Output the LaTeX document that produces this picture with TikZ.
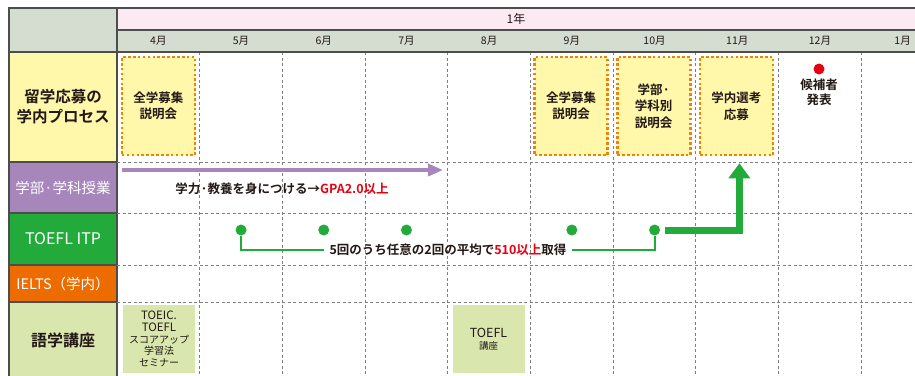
\documentclass[tikz,border=0pt]{standalone}
\usepackage{fontspec}
\setmainfont{Noto Sans CJK JP}[BoldFont={Noto Sans CJK JP Bold}]
\usetikzlibrary{arrows.meta}
\definecolor{hdrgray}{HTML}{D4DDD0}
\definecolor{yearpink}{HTML}{FCEAF2}
\definecolor{procyellow}{HTML}{FFF7AA}
\definecolor{classpurple}{HTML}{A686BB}
\definecolor{itpgreen}{HTML}{22AA3A}
\definecolor{ieltsorange}{HTML}{EC6C00}
\definecolor{langgreen}{HTML}{D9E7AE}
\definecolor{eventorange}{HTML}{F08300}
\definecolor{linegray}{HTML}{4D4D4D}
\definecolor{gridgray}{HTML}{7F7F7F}
\definecolor{notered}{HTML}{E60012}
\definecolor{ink}{HTML}{231815}

\begin{document}
\begin{tikzpicture}[x=1pt, y=-1pt, text=ink,
  frame/.style={draw=linegray, line width=1.2pt},
  gridline/.style={draw=gridgray, line width=0.9pt, dash pattern=on 3pt off 2.5pt},
  rowlabel/.style={frame, minimum width=108pt, inner sep=0pt, align=center},
  eventbox/.style={draw=eventorange, fill=procyellow, line width=2.6pt, dash pattern=on 2.6pt off 2.3pt,
    minimum width=73pt, minimum height=98pt, inner sep=0pt, align=center, font=\bfseries\fontsize{12.5}{16.5}\selectfont},
  langbox/.style={fill=langgreen, minimum width=72pt, minimum height=68pt, inner sep=0pt, align=center},
  itpdot/.style={circle, fill=itpgreen, minimum size=11pt, inner sep=0pt},
  ]
\useasboundingbox (0,0) rectangle (915,375);

\fill[yearpink] (117,8) rectangle (915,30);
\fill[hdrgray] (117,30) rectangle (915,52);
\node[rowlabel, fill=hdrgray, minimum height=44pt] (corner) at (63,30) {};
\node[rowlabel, fill=procyellow, minimum height=110pt, font=\bfseries\fontsize{15.5}{20}\selectfont] (lblProc) at (63,107) {留学応募の\\学内プロセス};
\node[rowlabel, fill=classpurple, minimum height=51pt, text=white, font=\fontsize{14.5}{17}\selectfont] (lblClass) at (63,187.5) {学部·学科授業};
\node[rowlabel, fill=itpgreen, minimum height=52pt, text=white, font=\fontsize{16}{18}\selectfont] (lblItp) at (63,239) {TOEFL ITP};
\node[rowlabel, fill=ieltsorange, minimum height=37pt, text=white, font=\fontsize{14.5}{17}\selectfont] (lblIelts) at (63,283.5) {IELTS（学内）};
\node[rowlabel, fill=langgreen, minimum height=76pt, font=\bfseries\fontsize{16}{18}\selectfont] (lblLang) at (63,340) {語学講座};

\foreach \y in {162,213,265,302}
{
    \draw[gridline] (117,\y)--(915,\y);
}
\foreach \i in {1,...,9}
{
    \draw[gridline] ({117+82.7*\i},52)--({117+82.7*\i},375);
}
\draw[frame] (9,8)--(915,8);
\draw[frame] (117,30)--(915,30);
\draw[frame] (9,52)--(915,52);

\node[font=\fontsize{12}{13}\selectfont] (year) at (516,19) {1年};
\foreach \m [count=\i from 0] in {4,5,6,7,8,9,10,11,12,1}
{
    \node[font=\fontsize{10.5}{12}\selectfont] (m\i) at ({158.35+82.7*\i},41) {\m 月};
}

\node[eventbox] (box0) at (158.35,106) {全学募集\\説明会};
\node[eventbox] (box5) at (571,106) {全学募集\\説明会};
\node[eventbox] (box6) at (653.7,106) {学部·\\学科別\\説明会};
\node[eventbox] (box7) at (736.4,106) {学内選考\\応募};
\node[circle, fill=notered, minimum size=11pt, inner sep=0pt] (candDot) at (819,69) {};
\node[align=center, font=\bfseries\fontsize{12.5}{15.5}\selectfont] (cand) at (819,92.5) {候補者\\発表};

\coordinate (gpaStart) at (122,170);
\coordinate (gpaEnd) at (443,170);
\draw[classpurple, line width=3.5pt, -{Triangle[length=15pt,width=12pt]}] (gpaStart)--(gpaEnd);
\node[font=\bfseries\fontsize{12.5}{15}\selectfont] (gpa) at (282,189) {学力·教養を身につける→\textcolor{notered}{GPA2.0以上}};

\foreach \i in {1,2,3,5,6}
{
    \node[itpdot] (dot\i) at ({158.35+82.7*\i},230) {};
}
\node[inner xsep=5pt, font=\bfseries\fontsize{12.5}{15}\selectfont] (avg) at (448,250) {5回のうち任意の2回の平均で\textcolor{notered}{510以上}取得};
\draw[itpgreen, line width=2pt] (dot1)|-(avg.west);
\draw[itpgreen, line width=2pt] (avg.east)-|(dot6);
\draw[itpgreen, line width=7pt, -{Triangle[length=15pt,width=21pt]}] ([xshift=5pt]dot6.east)-|([xshift=3pt,yshift=-7pt]box7.south);

\node[langbox, font=\fontsize{10}{11.8}\selectfont] (seminar) at (159,339) {{\fontsize{11.5}{13}\selectfont TOEIC.}\\{\fontsize{11.5}{13}\selectfont TOEFL}\\スコアアップ\\学習法\\セミナー};
\node[langbox] (course) at (488.5,339) {{\fontsize{12.5}{13}\selectfont TOEFL}\\{\fontsize{9.5}{11}\selectfont 講座}};
\end{tikzpicture}
\end{document}
